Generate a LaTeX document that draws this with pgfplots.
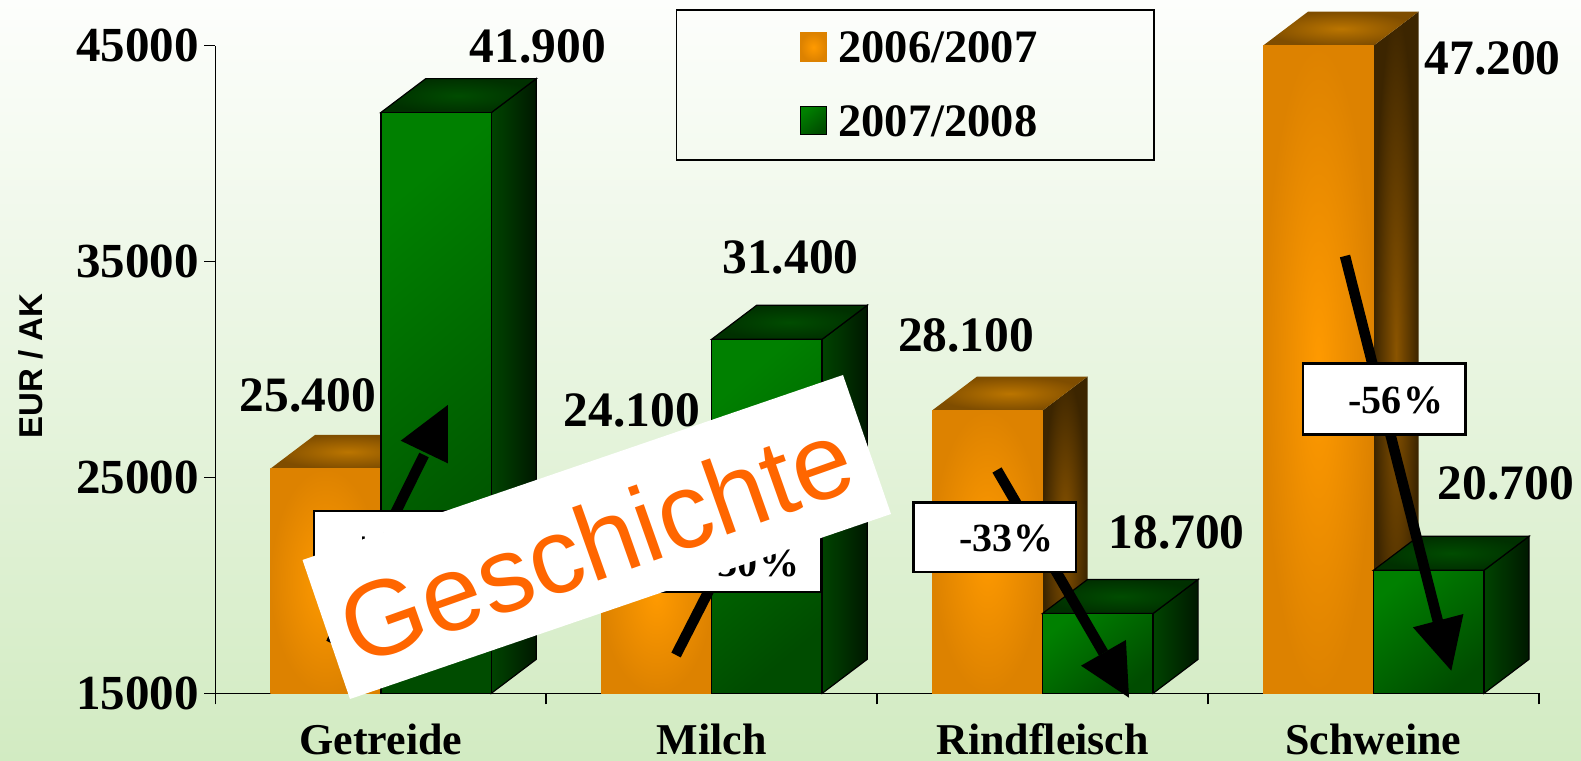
\documentclass[border=0pt]{standalone}
\usepackage{fontspec}
\setmainfont{Liberation Serif}
\newfontfamily\arial{Liberation Sans}
\usepackage{pgfplots}
\usepackage{pgfplotstable}
\pgfplotsset{compat=1.18}
\newcommand{\fs}[1]{\fontsize{#1}{#1}\selectfont\bfseries}
\pgfplotstableread{
x y label
0.475 44989 41.900
-0.220 28820 25.400
1.238 35214 31.400
0.759 28125 24.100
1.769 31600 28.100
2.405 22473 18.700
3.360 44433 47.200
3.400 24743 20.700
}\valuelabels
\pgfplotsset{
  ofront/.style={ybar,bar width=110.5pt,bar shift=-55.25pt,draw=none,forget plot,inner color=FF9A00,outer color=DD8200},
  gfront/.style={ybar,bar width=110.5pt,bar shift=55.25pt,draw=black,line width=1.5pt,forget plot,top color=008000,bottom color=004C00,shading angle=40},
  oside/.style={draw=none,forget plot,mark=none,inner color=8A5400,outer color=3C2500},
  otop/.style={draw=none,forget plot,mark=none,inner color=BB7500,outer color=7F4D00},
  gside/.style={draw=black,line width=1.2pt,forget plot,mark=none,left color=004400,right color=001800},
  gtop/.style={draw=black,line width=1.2pt,forget plot,mark=none,inner color=004C00,outer color=003000},
}
\definecolor{FF9A00}{HTML}{FF9A00}
\definecolor{DD8200}{HTML}{DD8200}
\definecolor{8A5400}{HTML}{8A5400}
\definecolor{3C2500}{HTML}{3C2500}
\definecolor{BB7500}{HTML}{BB7500}
\definecolor{7F4D00}{HTML}{7F4D00}
\definecolor{008000}{HTML}{008000}
\definecolor{004C00}{HTML}{004C00}
\definecolor{004400}{HTML}{004400}
\definecolor{001800}{HTML}{001800}
\definecolor{003000}{HTML}{003000}
\definecolor{bgtop}{HTML}{FDFEFC}
\definecolor{bgbot}{HTML}{D2EBC2}
\definecolor{geschichte}{HTML}{FF6600}
\begin{document}
\begin{tikzpicture}[x=1pt,y=1pt]
\useasboundingbox (0,0) rectangle (1581,760);
\shade[top color=bgtop,bottom color=bgbot] (0,0) rectangle (1581,760);
\begin{axis}[
  at={(215.3pt,66.7pt)},anchor=south west,
  scale only axis,width=1323.7pt,height=647.6pt,
  xmin=-0.5,xmax=3.5,ymin=15000,ymax=45000,
  clip=false,
  axis x line*=bottom,axis y line*=left,
  axis line style={line width=1.5pt,-},
  xtick={0,1,2,3},xticklabels={Getreide,Milch,Rindfleisch,Schweine},
  minor xtick={-0.5,0.5,1.5,2.5,3.5},
  major tick length=11pt,minor tick length=11pt,
  tick align=outside,
  x tick style={draw=none},
  minor x tick style={draw=black,line width=1.5pt},
  y tick style={draw=black,line width=1.5pt},
  ytick={15000,25000,35000,45000},
  scaled y ticks=false,
  yticklabel style={/pgf/number format/assume math mode=true,/pgf/number format/1000 sep={},font=\fs{49},anchor=east,xshift=-2pt},
  xticklabel style={font=\fs{44},anchor=base,yshift=-50pt},
  legend style={at={(675.5pt-215.3pt,693.3pt-9pt)},anchor=north west,fill=none,draw=black,line width=1.8pt,
    inner xsep=114.5pt,inner ysep=20pt,font=\fs{46.5},row sep=37pt,
    legend cell align=left},
  legend image code/.code={},
]
% orange bars: side, top, front (the Schweine bar, 47200, is cut off at the axis top, 45000)
\addplot[oside] coordinates {(0,15000)(0,25400)(0.136,26975)(0.136,16575)} -- cycle;
\addplot[otop] coordinates {(-0.334,25400)(0,25400)(0.136,26975)(-0.198,26975)} -- cycle;
\addplot[ofront] coordinates {(0,25400)};
\addplot[oside] coordinates {(1,15000)(1,24100)(1.136,25675)(1.136,16575)} -- cycle;
\addplot[otop] coordinates {(0.666,24100)(1,24100)(1.136,25675)(0.802,25675)} -- cycle;
\addplot[ofront] coordinates {(1,24100)};
\addplot[oside] coordinates {(2,15000)(2,28100)(2.136,29675)(2.136,16575)} -- cycle;
\addplot[otop] coordinates {(1.666,28100)(2,28100)(2.136,29675)(1.802,29675)} -- cycle;
\addplot[ofront] coordinates {(2,28100)};
\addplot[oside] coordinates {(3,15000)(3,45000)(3.136,46575)(3.136,16575)} -- cycle;
\addplot[otop] coordinates {(2.666,45000)(3,45000)(3.136,46575)(2.802,46575)} -- cycle;
\addplot[ofront] coordinates {(3,45000)};
% green bars
\addplot[gside] coordinates {(0.334,15000)(0.334,41900)(0.47,43475)(0.47,16575)} -- cycle;
\addplot[gtop] coordinates {(0,41900)(0.334,41900)(0.47,43475)(0.136,43475)} -- cycle;
\addplot[gfront] coordinates {(0,41900)};
\addplot[gside] coordinates {(1.334,15000)(1.334,31400)(1.47,32975)(1.47,16575)} -- cycle;
\addplot[gtop] coordinates {(1,31400)(1.334,31400)(1.47,32975)(1.136,32975)} -- cycle;
\addplot[gfront] coordinates {(1,31400)};
\addplot[gside] coordinates {(2.334,15000)(2.334,18700)(2.47,20275)(2.47,16575)} -- cycle;
\addplot[gtop] coordinates {(2,18700)(2.334,18700)(2.47,20275)(2.136,20275)} -- cycle;
\addplot[gfront] coordinates {(2,18700)};
\addplot[gside] coordinates {(3.334,15000)(3.334,20700)(3.47,22275)(3.47,16575)} -- cycle;
\addplot[gtop] coordinates {(3,20700)(3.334,20700)(3.47,22275)(3.136,22275)} -- cycle;
\addplot[gfront] coordinates {(3,20700)};
% value labels
\addplot[draw=none,mark=none,forget plot,nodes near coords,point meta=explicit symbolic,
  every node near coord/.append style={anchor=center,font=\fs{49.5},text=black,inner sep=0pt}]
  table[x=x,y=y,meta=label] {\valuelabels};
% legend
\addlegendimage{legend image code/.code={\shade[inner color=FF9A00,outer color=DD8200,draw=DD8200] (0pt,-13pt) rectangle (26pt,15pt);\path[draw=none] (-9.5pt,0pt) -- (36pt,0pt);}}
\addlegendentry{2006/2007}
\addlegendimage{legend image code/.code={\shade[top color=008000,bottom color=004C00,shading angle=40,draw=black,line width=1pt] (0pt,-13pt) rectangle (26pt,15pt);\path[draw=none] (-9.5pt,0pt) -- (36pt,0pt);}}
\addlegendentry{2007/2008}
\end{axis}
% annotations, in picture pixels
\begin{scope}[shift={(0,760)},y=-1pt]
  \node[rotate=90,font=\arial\fs{33}] at (31,366) {EUR / AK};
  % arrows
  \draw[line width=10.5pt] (331,643) -- (424,455);
  \fill (447.8,405) -- (400.7,440.7) -- (447.8,463.3) -- cycle;
  \draw[line width=10.5pt] (676,655) -- (745,520);
  \draw[line width=10.5pt] (997,470) -- (1103.5,653);
  \fill (1129,697.7) -- (1081,665.7) -- (1125.9,640) -- cycle;
  \draw[line width=10.5pt] (1345,256) -- (1438.8,625);
  \fill (1451.3,670.7) -- (1412.9,627.3) -- (1463.4,614) -- cycle;
  % callouts
  \draw[fill=white,line width=2.5pt] (314,511) rectangle (476,581);
  \node[font=\fs{40}] at (405,546) {+65\kern1.5pt\%};
  \draw[fill=white,line width=2.5pt] (659,522) rectangle (821,592);
  \node[font=\fs{40}] at (747,563) {+30\kern1.5pt\%};
  \draw[fill=white,line width=2.5pt] (913.5,502.5) rectangle (1075.8,572);
  \node[font=\fs{40}] at (1006.5,538) {-33\kern1.5pt\%};
  \draw[fill=white,line width=2.5pt] (1303,363.5) rectangle (1465.6,434.5);
  \node[font=\fs{40}] at (1396,400) {-56\kern1.5pt\%};
  % banner
  \fill[white] (302.5,560) -- (350,699) -- (891,514) -- (843,375) -- cycle;
  \node[rotate=19.5,text=geschichte,font=\arial\fontsize{107}{107}\selectfont] at (596,541) {Geschichte};
\end{scope}
\end{tikzpicture}
\end{document}
